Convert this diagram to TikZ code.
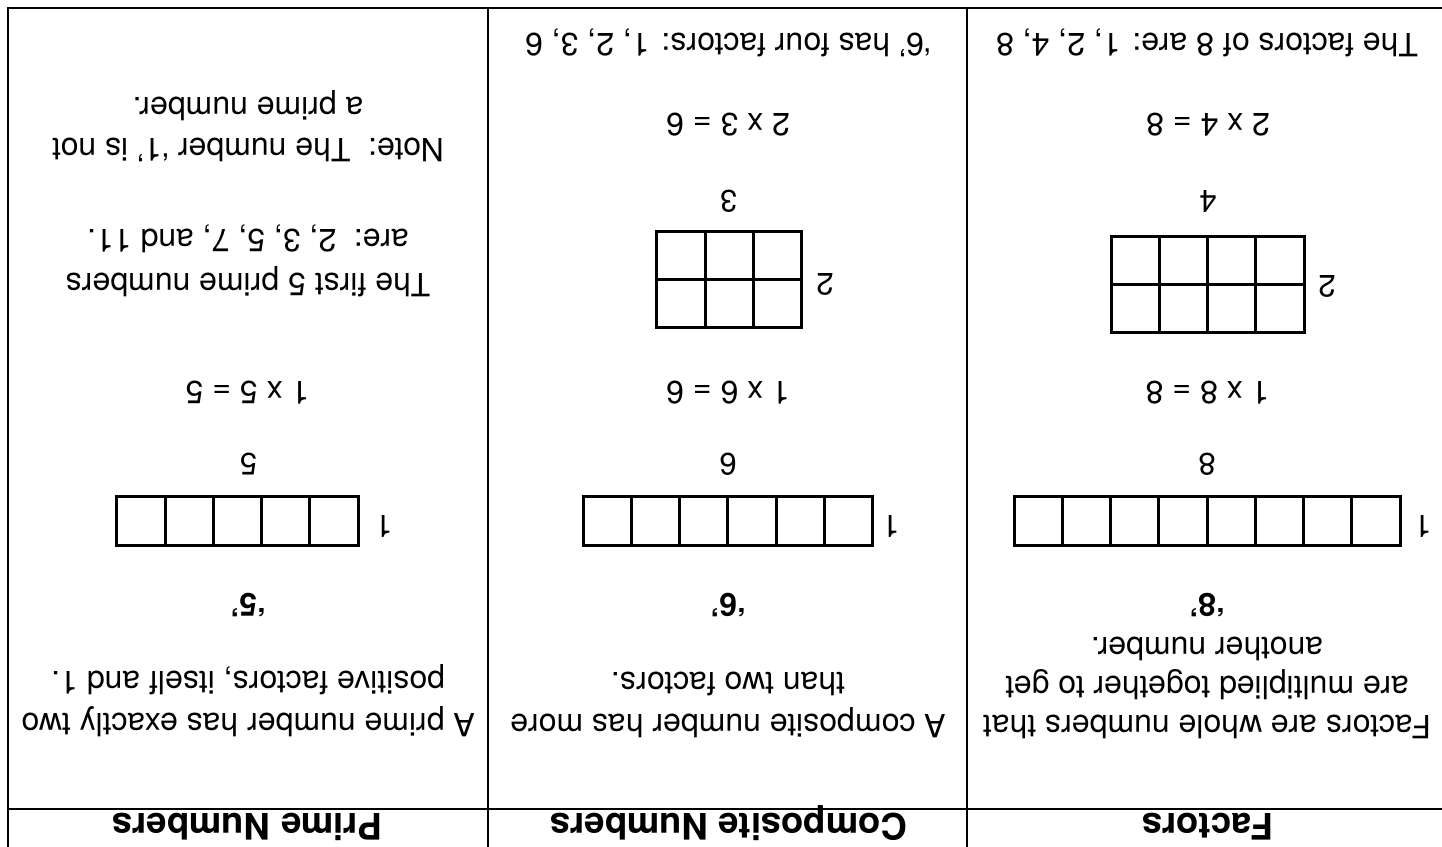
\documentclass[tikz,border=0pt]{standalone}
\usepackage{fontspec}
\setmainfont{TeX Gyre Heros}
\begin{document}
\begin{tikzpicture}[x=1pt,y=-1pt,
  frame/.style={line width=2pt, draw=black, line cap=rect},
  cell/.style={line width=3pt, draw=black},
  body/.style={rotate=180, inner sep=0pt, align=center, font=\fontsize{32}{39}\selectfont},
  line/.style={rotate=180, inner sep=0pt, anchor=base, font=\fontsize{32}{38}\selectfont},
  num/.style={rotate=180, inner sep=0pt, anchor=base, font=\fontsize{31}{36}\selectfont},
  big/.style={rotate=180, inner sep=0pt, anchor=base, font=\fontsize{32}{38}\selectfont\bfseries},
  head/.style={rotate=180, inner sep=0pt, anchor=base, font=\fontsize{36.5}{42}\selectfont\bfseries}
]
\useasboundingbox (0,0) rectangle (1442,846);
\fill[white] (0,0) rectangle (1442,846);

% frame
\coordinate (tl) at (8,8);
\coordinate (tr) at (1442,8);
\coordinate (bl) at (8,846);
\coordinate (hl) at (8,809);
\coordinate (hr) at (1442,809);
\coordinate (v1t) at (488,8);
\coordinate (v1b) at (488,846);
\coordinate (v2t) at (967,8);
\coordinate (v2b) at (967,846);
\draw[frame] (bl) -- (tl) -- (tr);
\draw[frame] (hl) -- (hr);
\draw[frame] (v1t) -- (v1b);
\draw[frame] (v2t) -- (v2b);

% ---------- column 1 : Prime Numbers ----------
\node[head] (h1) at (247,813) {Prime Numbers};
\node[body, font=\fontsize{32}{42}\selectfont] (d1) at (248,701) {A prime number has exactly two\\positive factors, itself and 1.};
\node[big] (q1) at (248,593) {‘5’};
\foreach \i in {0,...,4}
  \draw[cell] (116.7+48.3*\i,496.7) rectangle ++(48.3,48.3);
\node[num] (s1) at (384,515) {1};
\node[num] (t1) at (248.5,453) {5};
\node[line] (e1) at (247.5,381) {1 x 5 = 5};
\node[body, font=\fontsize{32}{43.6}\selectfont] (p1) at (248,261) {The first 5 prime numbers\\are:\ \ 2, 3, 5, 7, and 11.};
\node[body, font=\fontsize{32}{41}\selectfont] (n1) at (248,126) {Note:\ \ The number ‘1’ is not\\a prime number.};

% ---------- column 2 : Composite Numbers ----------
\node[head] (h2) at (728.5,813) {Composite Numbers};
\node[body, font=\fontsize{32}{42}\selectfont] (d2) at (728,705) {A composite number has more\\than two factors.};
\node[big] (q2) at (728,593) {‘6’};
\foreach \i in {0,...,5}
  \draw[cell] (583+48.3*\i,496.7) rectangle ++(48.3,48.3);
\node[num] (s2) at (891,515) {1};
\node[num] (t2) at (728,453) {6};
\node[line] (e2) at (728,381) {1 x 6 = 6};
\foreach \i in {0,1,2}
  \foreach \j in {0,1}
    \draw[cell] (656.7+48.3*\i,231.7+47.8*\j) rectangle ++(48.3,47.8);
\node[num] (s2b) at (825,273) {2};
\node[num] (t2b) at (728.5,190) {3};
\node[line] (e2b) at (728,113) {2 x 3 = 6};
\node[line] (f2) at (728,33) {‘6’ has four factors: 1, 2, 3, 6};

% ---------- column 3 : Factors ----------
\node[head] (h3) at (1207.5,813) {Factors};
\node[body, font=\fontsize{32}{39}\selectfont] (d3) at (1207,688) {Factors are whole numbers that\\are multiplied together to get\\another number.};
\node[big] (q3) at (1207,593) {‘8’};
\foreach \i in {0,...,7}
  \draw[cell] (1014+48.25*\i,496.7) rectangle ++(48.25,48.3);
\node[num] (s3) at (1423,515) {1};
\node[num] (t3) at (1207,453) {8};
\node[line] (e3) at (1207.5,381) {1 x 8 = 8};
\foreach \i in {0,...,3}
  \foreach \j in {0,1}
    \draw[cell] (1111+48.25*\i,236+48.3*\j) rectangle ++(48.25,48.3);
\node[num] (s3b) at (1327,275) {2};
\node[num] (t3b) at (1208,190) {4};
\node[line] (e3b) at (1208,113) {2 x 4 = 8};
\node[line] (f3) at (1207,33) {The factors of 8 are: 1, 2, 4, 8};
\end{tikzpicture}
\end{document}
